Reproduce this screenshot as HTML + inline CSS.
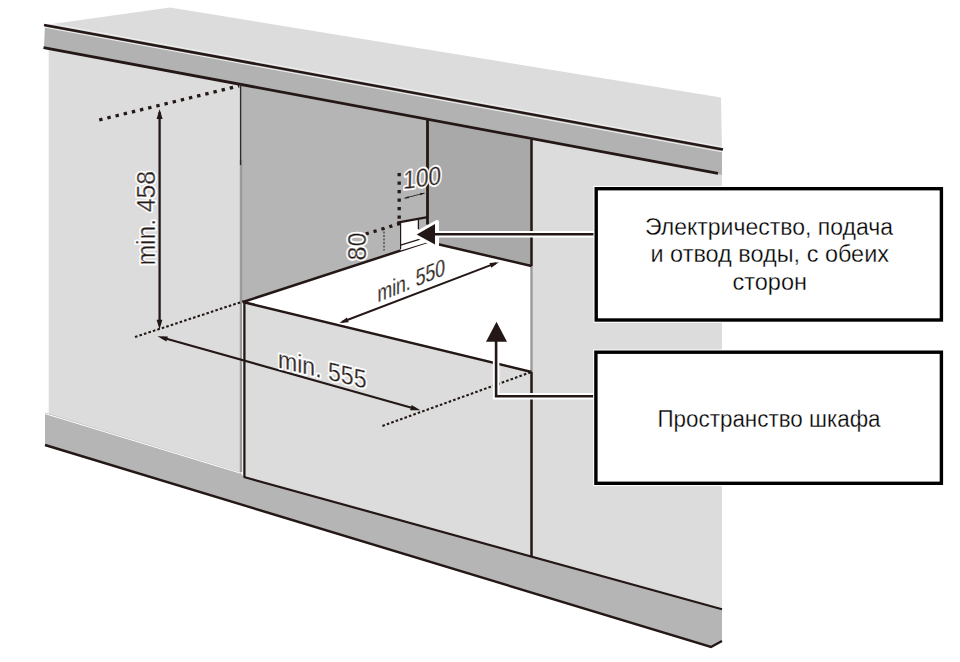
<!DOCTYPE html>
<html><head><meta charset="utf-8">
<style>
html,body{margin:0;padding:0;background:#fff;width:960px;height:662px;overflow:hidden}
svg{display:block}
.k{stroke:#231815;fill:none}
.dim{font-family:"Liberation Sans",sans-serif;fill:#231815;stroke:#fff;stroke-width:3.6px;paint-order:stroke;stroke-linejoin:round}
.dimt{font-family:"Liberation Sans",sans-serif;fill:#231815;stroke:#fff;stroke-width:0.4px;paint-order:normal}
.lbl{font-family:"Liberation Sans",sans-serif;fill:#000;font-size:23px;stroke:#fff;stroke-width:0.3px}
</style></head>
<body>
<svg width="960" height="662" viewBox="0 0 960 662">
<!-- panels -->
<polygon points="48.7,40 240,76 240,473 48.7,414" fill="#dcdcdc"/>
<polygon points="531,130 722,160 722,610 531,556" fill="#dcdcdc"/>
<!-- niche back wall -->
<polygon points="240,78 428,115 428,241.8 243,302 240,302" fill="#b5b5b5"/>
<!-- niche right inner wall -->
<polygon points="427.5,115 531.5,140 531.5,266 427.5,241.8" fill="#a9a9a9"/>
<!-- floor -->
<polygon points="243,302 427.5,241.8 531.5,266 531.5,372" fill="#fff"/>
<!-- lower cabinet front -->
<polygon points="243.5,302 531.5,372 531.5,556 244,477" fill="#dcdcdc"/>
<!-- plinth -->
<polygon points="45,412.6 240,472.2 244,477 531,556 722,609.3 722,641 711,647 45,445" fill="#b5b5b5"/>
<line x1="45" y1="413.6" x2="240" y2="473" stroke="#fff" stroke-width="1"/>
<!-- countertop -->
<polygon points="45,25 170,7.5 721,97.4 722,149.5" fill="#dcdcdc"/>
<polygon points="45,25 722,149.5 722,175 44,47.5" fill="#b2b2b2"/>
<line x1="45" y1="27.3" x2="722" y2="151.8" stroke="#fff" stroke-width="1" opacity="0.8"/>
<line x1="45" y1="22.6" x2="722" y2="147" stroke="#fff" stroke-width="1" opacity="0.6"/>
<line class="k" x1="44" y1="25" x2="723" y2="149.5" stroke-width="2.5"/>
<line class="k" x1="43.5" y1="47.7" x2="718" y2="173.3" stroke-width="2.8"/>

<!-- vertical edges -->
<line x1="241" y1="160" x2="241" y2="472.2" stroke="#9a9a9a" stroke-width="2.4"/>
<line x1="240.6" y1="84" x2="240.6" y2="165" stroke="#332b2b" stroke-width="1.4"/>
<line class="k" x1="244.4" y1="302" x2="244.4" y2="477.5" stroke-width="2.3"/>
<line class="k" x1="531.5" y1="139" x2="531.5" y2="266" stroke-width="2.5"/>
<line x1="531.5" y1="266" x2="531.5" y2="372" stroke="#9a9a9a" stroke-width="2.4"/>
<line class="k" x1="531.5" y1="372" x2="531.5" y2="556" stroke-width="2.5"/>
<line class="k" x1="427.5" y1="119" x2="427.5" y2="224.6" stroke-width="2.8"/>
<!-- floor edges -->
<line class="k" x1="243" y1="302" x2="427.5" y2="241.8" stroke-width="2.5"/>
<line class="k" x1="427.5" y1="241.8" x2="531.5" y2="266" stroke-width="2.5"/>
<line class="k" x1="243" y1="302" x2="531.5" y2="372" stroke-width="2.5"/>
<!-- bottom lines -->
<line class="k" x1="244" y1="477" x2="722" y2="609.3" stroke-width="2.2"/>
<polyline class="k" points="45,445 711,647 722,641" stroke-width="2.4"/>

<!-- opening box -->
<polygon points="400.6,222.6 418.4,219.4 418.4,238.5 426,236.5 426,242.7 400.6,250.6" fill="#fff"/>
<line class="k" x1="397.2" y1="222.6" x2="427.6" y2="217.2" stroke-width="2.2"/>
<line class="k" x1="400.6" y1="222.6" x2="400.6" y2="249" stroke-width="1.2"/>
<line class="k" x1="418.4" y1="219.6" x2="418.4" y2="229.2" stroke-width="1.3"/>
<line class="k" x1="400.6" y1="245.2" x2="421" y2="238.8" stroke-width="1.4"/>

<!-- dotted lines -->
<line class="k" x1="99.2" y1="120" x2="239.2" y2="85.8" stroke-width="3.3" stroke-dasharray="3.4 5"/>
<line class="k" x1="135" y1="337" x2="243.5" y2="301.3" stroke-width="2.1" stroke-dasharray="2.6 2.1"/>
<line class="k" x1="382.4" y1="425.9" x2="530.3" y2="372.4" stroke-width="2.1" stroke-dasharray="2.6 2.1"/>
<line class="k" x1="399.2" y1="173" x2="399.2" y2="223.5" stroke-width="3.3" stroke-dasharray="3.3 5.2"/>
<line class="k" x1="365.7" y1="234" x2="400.4" y2="223.4" stroke-width="3.2" stroke-dasharray="3.2 5"/>

<!-- dimension arrows -->
<g fill="#231815">
<line class="k" x1="159.6" y1="112" x2="159.6" y2="325" stroke-width="2.3"/>
<polygon points="159.6,109 156.6,119 162.6,119"/>
<polygon points="159.5,329.5 156.6,319.8 162.4,319.8"/>

<line class="k" x1="162" y1="337.5" x2="416" y2="409" stroke-width="2.1"/>
<polygon points="157.50,336.30 166.39,341.61 167.86,336.41"/>
<polygon points="420.50,410.30 411.61,404.99 410.14,410.19"/>

<line class="k" x1="342" y1="322" x2="496" y2="263.2" stroke-width="1.9"/>
<polygon points="339.40,323.00 348.70,322.13 346.92,317.46"/>
<polygon points="498.80,262.20 489.50,263.07 491.28,267.74"/>

<line class="k" x1="384" y1="228" x2="384" y2="250.6" stroke-width="1" stroke-dasharray="2 1.5"/>
<line x1="404.6" y1="198.2" x2="424.5" y2="193.1" stroke="#3a3333" stroke-width="1"/>
<polygon points="404.2,198.3 408.5,196.2 408.9,198.3" fill="#231815"/>
<polygon points="424.8,193.1 420.5,195.2 420.1,193.1" fill="#231815"/>
</g>

<!-- callout arrows with halo -->
<g stroke="#fff" stroke-width="6.5" fill="none">
<line x1="433" y1="234.2" x2="596" y2="234.2"/>
<polyline points="596,396.2 496.1,396.2 496.1,340"/>
</g>
<polygon points="414.7,234.6 437,222 437,246" fill="#fff" stroke="#fff" stroke-width="4" stroke-linejoin="round"/>
<polygon points="484,342.5 496.5,319.7 509,342.5" fill="#fff" stroke="#fff" stroke-width="4" stroke-linejoin="round"/>
<g stroke="#231815" stroke-width="2.6" fill="none">
<line x1="433" y1="234.2" x2="596" y2="234.2"/>
<polyline points="596,396.2 496.1,396.2 496.1,340"/>
</g>
<polygon points="416.7,234.6 435,224 435,244.6" fill="#231815"/>
<polygon points="486,341.7 496.5,321.7 507,341.7" fill="#231815"/>

<!-- dimension texts -->
<text class="dim" font-size="26.5" transform="translate(154.5,265.5) rotate(-90)" textLength="94.5" lengthAdjust="spacingAndGlyphs">min. 458</text>
<text class="dim" font-size="26" transform="matrix(1,-0.14,-0.02,1,403,189.3)" textLength="38" lengthAdjust="spacingAndGlyphs">100</text>
<text class="dim" font-size="25.5" transform="translate(365.5,260.5) rotate(-90)" textLength="28" lengthAdjust="spacingAndGlyphs">80</text>
<text class="dim" font-size="24" transform="matrix(1,-0.41,0,1,377.5,302.5)" textLength="67.5" lengthAdjust="spacingAndGlyphs">min. 550</text>
<text class="dim" font-size="25.5" transform="matrix(1,0.24,0,1,278,367.5)" textLength="88.5" lengthAdjust="spacingAndGlyphs">min. 555</text>
<text class="dimt" font-size="26.5" transform="translate(154.5,265.5) rotate(-90)" textLength="94.5" lengthAdjust="spacingAndGlyphs">min. 458</text>
<text class="dimt" font-size="26" transform="matrix(1,-0.14,-0.02,1,403,189.3)" textLength="38" lengthAdjust="spacingAndGlyphs">100</text>
<text class="dimt" font-size="25.5" transform="translate(365.5,260.5) rotate(-90)" textLength="28" lengthAdjust="spacingAndGlyphs">80</text>
<text class="dimt" font-size="24" transform="matrix(1,-0.41,0,1,377.5,302.5)" textLength="67.5" lengthAdjust="spacingAndGlyphs">min. 550</text>
<text class="dimt" font-size="25.5" transform="matrix(1,0.24,0,1,278,367.5)" textLength="88.5" lengthAdjust="spacingAndGlyphs">min. 555</text>

<!-- callout boxes -->
<rect x="596.2" y="188.7" width="345.2" height="131.3" fill="#fff" stroke="#fff" stroke-width="5.5"/>
<rect x="595.9" y="352.2" width="345.5" height="131.1" fill="#fff" stroke="#fff" stroke-width="5.5"/>
<rect x="596.2" y="188.7" width="345.2" height="131.3" fill="#fff" stroke="#000" stroke-width="3.4"/>
<rect x="595.9" y="352.2" width="345.5" height="131.1" fill="#fff" stroke="#000" stroke-width="3.4"/>
<text class="lbl" x="645" y="234.5" textLength="248" lengthAdjust="spacingAndGlyphs">Электричество, подача</text>
<text class="lbl" x="650.5" y="261.7" textLength="238.5" lengthAdjust="spacingAndGlyphs">и отвод воды, с обеих</text>
<text class="lbl" x="732.5" y="290" textLength="74.5" lengthAdjust="spacingAndGlyphs">сторон</text>
<text class="lbl" x="657.5" y="426.8" textLength="223" lengthAdjust="spacingAndGlyphs">Пространство шкафа</text>
</svg>
</body></html>
